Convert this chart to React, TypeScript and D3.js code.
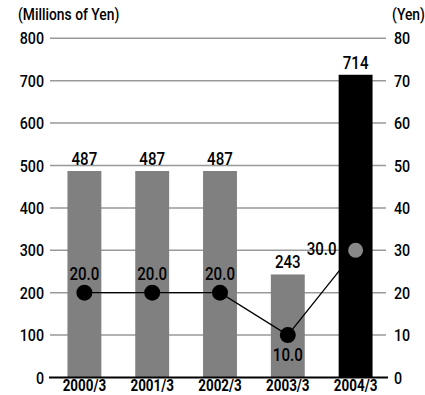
import React from "react";
import * as d3 from "d3";

const categories = ["2000/3", "2001/3", "2002/3", "2003/3", "2004/3"];
const barValues = [487, 487, 487, 243, 714];
const lineValues = [20.0, 20.0, 20.0, 10.0, 30.0];
const leftTicks = [0, 100, 200, 300, 400, 500, 600, 700, 800];
const rightTicks = [0, 10, 20, 30, 40, 50, 60, 70, 80];

const W = 425;
const H = 395;
const FONT = "Roboto, 'Liberation Sans', sans-serif";
const SX = 0.84;

type TProps = {
  x: number;
  y: number;
  size: number;
  anchor?: "start" | "middle" | "end";
  weight?: number;
  children: React.ReactNode;
};

function T({ x, y, size, anchor = "start", weight = 500, children }: TProps) {
  return (
    <text
      transform={`translate(${x},${y}) scale(${SX},1)`}
      textAnchor={anchor}
      fontSize={size}
      fontWeight={weight}
      fill="#000"
    >
      {children}
    </text>
  );
}

export default function App() {
  const x = d3.scaleBand<string>().domain(categories).range([50.5, 389.5]).paddingInner(0.5).paddingOuter(0.25);
  const yL = d3.scaleLinear().domain([0, 800]).range([377.5, 38.3]);
  const yR = d3.scaleLinear().domain([0, 80]).range([377.5, 38.3]);
  const bw = x.bandwidth();
  const cx = (c: string) => (x(c) as number) + bw / 2;
  const line = d3
    .line<number>()
    .x((_, i) => cx(categories[i]))
    .y((d) => yR(d));

  return (
    <svg width={W} height={H} style={{ position: "absolute", left: 0, top: 0 }} fontFamily={FONT}>
      <rect width={W} height={H} fill="#fff" />
      {leftTicks.map((t) =>
        t === 0 ? null : (
          <line key={t} x1={50} x2={386} y1={yL(t)} y2={yL(t)} stroke="#999" strokeWidth={1.5} />
        )
      )}
      {leftTicks.map((t) => (
        <T key={"l" + t} x={44} y={yL(t) + 6} anchor="end" size={17}>
          {t}
        </T>
      ))}
      {rightTicks.map((t) => (
        <T key={"r" + t} x={394} y={yR(t) + 6} size={17}>
          {t}
        </T>
      ))}
      <T x={18} y={20} size={16.5}>(Millions of Yen)</T>
      <T x={392} y={20} size={16.5}>(Yen)</T>
      {barValues.map((v, i) => (
        <rect
          key={"b" + i}
          x={x(categories[i])}
          y={yL(v)}
          width={bw}
          height={yL(0) - yL(v)}
          fill={i === 4 ? "#000" : "#808080"}
        />
      ))}
      {barValues.map((v, i) => (
        <T key={"bl" + i} x={cx(categories[i])} y={yL(v) - 6} anchor="middle" size={18}>
          {v}
        </T>
      ))}
      <line x1={49} x2={388} y1={yL(0)} y2={yL(0)} stroke="#000" strokeWidth={2} />
      <path d={line(lineValues) || ""} fill="none" stroke="#000" strokeWidth={1.3} />
      {lineValues.map((v, i) => (
        <circle key={"c" + i} cx={cx(categories[i])} cy={yR(v)} r={i === 4 ? 7.5 : 8} fill={i === 4 ? "#888" : "#000"} />
      ))}
      {lineValues.map((v, i) => {
        let tx = cx(categories[i]);
        let ty = yR(v) - 13;
        let anchor: "middle" | "end" = "middle";
        if (i === 3) ty = yR(v) + 26;
        if (i === 4) {
          tx = cx(categories[i]) - 19;
          ty = yR(v) + 5;
          anchor = "end";
        }
        return (
          <T key={"ll" + i} x={tx} y={ty} anchor={anchor} size={18}>
            {v.toFixed(1)}
          </T>
        );
      })}
      {categories.map((c) => (
        <T key={"x" + c} x={cx(c)} y={391} anchor="middle" size={16} weight={700}>
          {c}
        </T>
      ))}
    </svg>
  );
}
